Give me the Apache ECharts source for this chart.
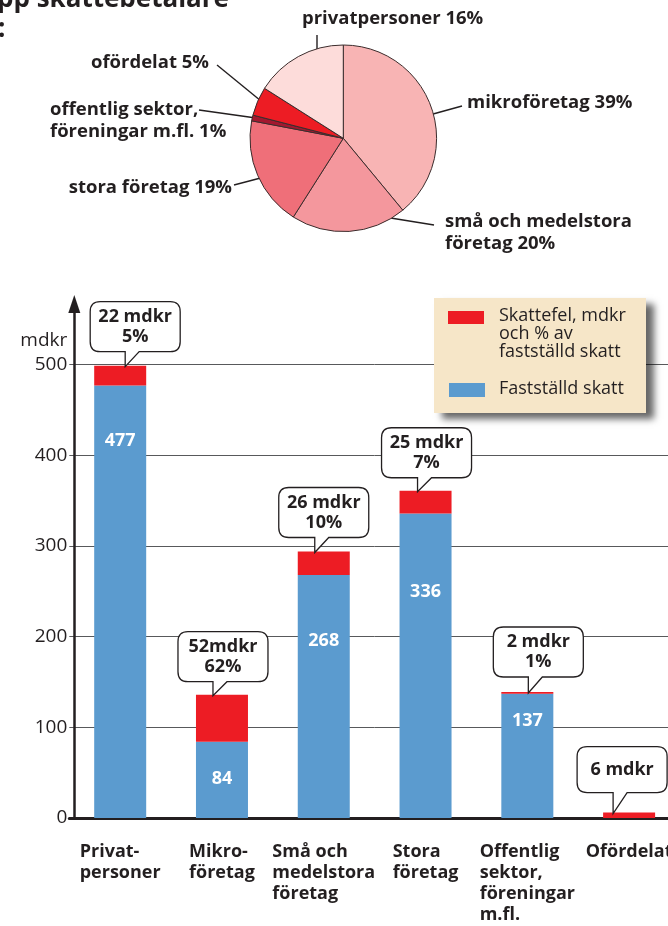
<!DOCTYPE html>
<html>
<head>
<meta charset="utf-8">
<script src="https://cdn.jsdelivr.net/npm/echarts@6/dist/echarts.min.js"></script>
<style>
html,body{margin:0;padding:0;background:#fff;overflow:hidden;}
#chart{width:680px;height:926px;}
</style>
</head>
<body>
<div id="chart"></div>
<script>
// ---------- data ----------
const categories = ['Privat-\npersoner', 'Mikro-\nföretag', 'Små och\nmedelstora\nföretag', 'Stora\nföretag', 'Offentlig\nsektor,\nföreningar\nm.fl.', 'Ofördelat'];
const assessedTax = [477, 84, 268, 336, 137, 0];   // Fastställd skatt, mdkr
const taxGap = [22, 52, 26, 25, 2, 6];             // Skattefel, mdkr
const calloutTexts = ['22 mdkr\n5%', '52mdkr\n62%', '26 mdkr\n10%', '25 mdkr\n7%', '2 mdkr\n1%', '6 mdkr'];
const yTicks = [0, 100, 200, 300, 400, 500];
const seriesNames = ['Fastställd skatt', 'Skattefel, mdkr\noch % av\nfastställd skatt'];

const pieNames = ['mikroföretag', 'små och medelstora\nföretag', 'stora företag', 'offentlig sektor,\nföreningar m.fl.', 'ofördelat', 'privatpersoner'];
const pieShares = [39, 20, 19, 1, 5, 16];

const titleLines = ['pp skattebetalare', ':'];

// ---------- layout / style (not data) ----------
const FONT = '"Open Sans", "Noto Sans", sans-serif';
const INK = '#231f20';
const BLUE = '#5b9bcf';
const RED = '#ed1c24';
const pieColors = ['#f8b4b4', '#f4979d', '#ef6f79', '#a3182f', '#ed1c24', '#fddcda'];

const calloutBoxDx = [15, 1, 0, 1, 11, -7];
const calloutTipDx = [5, -9, -9, -8, 1, -16];
const calloutLift = [14, 13, 14, 13, 15, 20];
const valueLabelDy = [55, 37, 66, 78, 27, 0];

const pieLabelLayout = [
  {x: 467, y: 103, align: 'left',  from: [415, 119], to: [462, 106]},
  {x: 445, y: 233, align: 'left',  from: [372, 215], to: [434, 225]},
  {x: 232, y: 188, align: 'right', from: [272, 175], to: [234, 185]},
  {x: 50,  y: 121, align: 'left',  from: [256, 118], to: [199, 110]},
  {x: 209, y: 63,  align: 'right', from: [272, 110], to: [217, 65]},
  {x: 302, y: 19,  align: 'left',  from: [317, 70],  to: [317, 35]}
];

// ---------- build ----------
const chart = echarts.init(document.getElementById('chart'), null, {renderer: 'canvas'});

const blueData = assessedTax.map((v, i) => ({
  value: v,
  label: v > 0 ? {show: true, position: ['50%', valueLabelDy[i]]} : {show: false}
}));

const calloutData = categories.map((c, i) => [i, assessedTax[i] + taxGap[i]]);

function renderCallout(params, api) {
  const i = api.value(0);
  const total = api.value(1);
  const p = api.coord([i, total]);
  const text = calloutTexts[i];
  const nLines = text.split('\n').length;
  const w = 90, h = nLines > 1 ? 50 : 46, r = 10;
  const cx = p[0] + calloutBoxDx[i];
  const bottom = p[1] - calloutLift[i];
  const top = bottom - h;
  const left = cx - w / 2, right = cx + w / 2;
  const tipX = p[0] + calloutTipDx[i];
  const tipY = p[1] + 1;
  const tw = 14;
  const d = 'M' + (left + r) + ',' + top +
    ' L' + (right - r) + ',' + top +
    ' Q' + right + ',' + top + ' ' + right + ',' + (top + r) +
    ' L' + right + ',' + (bottom - r) +
    ' Q' + right + ',' + bottom + ' ' + (right - r) + ',' + bottom +
    ' L' + (tipX + tw) + ',' + bottom +
    ' L' + tipX + ',' + tipY +
    ' L' + tipX + ',' + bottom +
    ' L' + (left + r) + ',' + bottom +
    ' Q' + left + ',' + bottom + ' ' + left + ',' + (bottom - r) +
    ' L' + left + ',' + (top + r) +
    ' Q' + left + ',' + top + ' ' + (left + r) + ',' + top + ' Z';
  return {
    type: 'group',
    children: [
      {type: 'path', shape: {pathData: d}, style: {fill: '#fff', stroke: INK, lineWidth: 1.3}},
      {type: 'text', style: {
        text: text, x: cx, y: top + h / 2, align: 'center', verticalAlign: 'middle',
        fontFamily: FONT, fontWeight: 'bold', fontSize: 18, lineHeight: 20, fill: INK
      }}
    ]
  };
}

const option = {
  animation: false,
  textStyle: {fontFamily: FONT},
  grid: {left: 69.3, right: 0, top: 304, bottom: 108, containLabel: false},
  xAxis: {
    type: 'category',
    data: categories,
    axisLine: {lineStyle: {color: INK, width: 3}},
    axisTick: {show: false},
    splitLine: {show: false},
    axisLabel: {
      interval: 0,
      margin: 23,
      align: 'center',
      verticalAlign: 'top',
      formatter: function (v) {
        return v.split('\n').map(s => '{c|' + s + '}').join('\n');
      },
      rich: {
        c: {fontFamily: FONT, fontWeight: 'bold', fontSize: 18, lineHeight: 21, color: INK, align: 'left'}
      }
    }
  },
  yAxis: {
    type: 'value',
    min: 0,
    max: 567,
    interval: 100,
    offset: -5,
    name: 'mdkr',
    nameLocation: 'end',
    nameGap: -37,
    nameTextStyle: {fontFamily: FONT, fontSize: 19, color: INK, align: 'right', verticalAlign: 'middle', padding: [0, 7, 0, 0]},
    axisLine: {show: true, symbol: ['none', 'triangle'], symbolSize: [12, 18], lineStyle: {color: INK, width: 2.5}},
    axisTick: {show: false},
    axisLabel: {
      fontFamily: FONT, fontSize: 19, color: INK, margin: 7,
      showMaxLabel: false,
      formatter: function (v) { return yTicks.indexOf(v) >= 0 ? String(v) : ''; }
    },
    splitLine: {show: true, showMaxLine: false, showMinLine: false, lineStyle: {color: '#58595b', width: 1}}
  },
  series: [
    {
      name: seriesNames[0],
      type: 'bar',
      stack: 'total',
      barWidth: 52,
      itemStyle: {color: BLUE},
      label: {
        show: true, align: 'center', verticalAlign: 'middle',
        fontFamily: FONT, fontWeight: 'bold', fontSize: 18, color: '#fff',
        formatter: '{c}'
      },
      data: blueData,
      z: 2
    },
    {
      name: seriesNames[1],
      type: 'bar',
      stack: 'total',
      barWidth: 52,
      itemStyle: {color: RED},
      data: taxGap,
      z: 2
    },
    {
      type: 'custom',
      renderItem: renderCallout,
      data: calloutData,
      encode: {x: 0, y: 1},
      clip: false,
      z: 5,
      silent: true
    },
    {
      type: 'pie',
      center: [343.3, 138.3],
      radius: 93.3,
      startAngle: 90,
      clockwise: true,
      avoidLabelOverlap: false,
      itemStyle: {borderColor: '#3b2c2c', borderWidth: 1},
      label: {
        show: true,
        position: 'outside',
        fontFamily: FONT, fontWeight: 'bold', fontSize: 18.5, lineHeight: 22, color: INK,
        formatter: function (p) { return p.name + ' ' + pieShares[p.dataIndex] + '%'; }
      },
      labelLine: {show: true, length: 10, length2: 10, lineStyle: {color: INK, width: 1.4}},
      labelLayout: function (params) {
        const L = pieLabelLayout[params.dataIndex];
        const mid = [(L.from[0] + L.to[0]) / 2, (L.from[1] + L.to[1]) / 2];
        return {x: L.x, y: L.y, align: L.align, verticalAlign: 'middle', labelLinePoints: [L.from, mid, L.to]};
      },
      data: pieNames.map((n, i) => ({name: n, value: pieShares[i], itemStyle: {color: pieColors[i]}})),
      z: 3
    }
  ],
  graphic: [
    {type: 'text', x: -3, y: 0, z: 10, style: {text: titleLines[0], fontFamily: FONT, fontWeight: 'bold', fontSize: 26, fill: INK, align: 'left', verticalAlign: 'middle'}},
    {type: 'text', x: -2, y: 30, z: 10, style: {text: titleLines[1], fontFamily: FONT, fontWeight: 'bold', fontSize: 26, fill: INK, align: 'left', verticalAlign: 'middle'}},
    {type: 'rect', z: 20, shape: {x: 434, y: 298, width: 212, height: 115},
      style: {fill: '#f6e6c8', shadowBlur: 7, shadowOffsetX: 8, shadowOffsetY: 6, shadowColor: 'rgba(0,0,0,0.6)'}},
    {type: 'rect', z: 21, shape: {x: 448, y: 311, width: 36, height: 13}, style: {fill: RED}},
    {type: 'text', z: 21, x: 499, y: 334, style: {text: seriesNames[1], fontFamily: FONT, fontSize: 18, lineHeight: 18, fill: INK, align: 'left', verticalAlign: 'middle'}},
    {type: 'rect', z: 21, shape: {x: 449, y: 383, width: 36, height: 14}, style: {fill: BLUE}},
    {type: 'text', z: 21, x: 499, y: 389, style: {text: seriesNames[0], fontFamily: FONT, fontSize: 18, lineHeight: 18, fill: INK, align: 'left', verticalAlign: 'middle'}}
  ]
};

chart.setOption(option);
</script>
</body>
</html>
